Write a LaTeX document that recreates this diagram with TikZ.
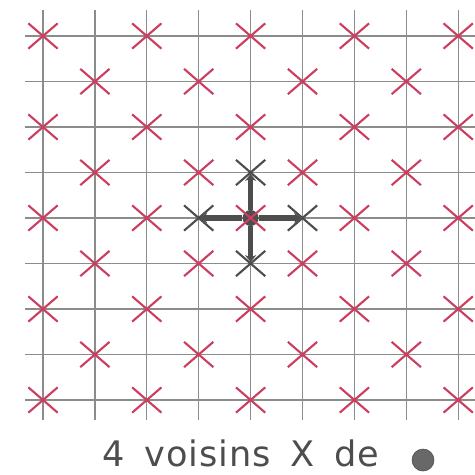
\documentclass[tikz,border=0pt]{standalone}
\usepackage{fontspec}
\usepackage{xcolor}
\usepackage{tikz}
\usetikzlibrary{shapes.misc, arrows.meta}
\newfontfamily\handfont{DejaVu Sans}[LetterSpace=3, WordSpace=1.6]
\definecolor{markred}{HTML}{CC3D5F}
\definecolor{gridgray}{HTML}{8C8C8C}
\definecolor{pencil}{HTML}{4D4D4D}

\begin{document}
\begin{tikzpicture}[
  x=1.2975cm, y=-1.1375cm,
  gline/.style={draw=gridgray, line width=0.9pt},
  redx/.style={cross out, draw=markred, line width=1.5pt,
               minimum width=0.68cm, minimum height=0.58cm, inner sep=0pt},
  nbrx/.style={redx, draw=pencil},
  dot/.style={circle, fill=pencil, minimum size=0.4cm, inner sep=0pt},
  arr/.style={draw=pencil, line width=3.6pt,
              -{Stealth[length=5pt,width=8pt]}, shorten >=1pt},
  legend/.style={font=\handfont\fontsize{25}{30}\selectfont, text=pencil,
                 anchor=base west, inner sep=0pt}
]
\useasboundingbox (-0.8285,-0.7912) rectangle (8.3237,9.6264);

%% grid
\foreach \i in {0,...,8} {
  \draw[gline] (\i,-0.571) -- (\i,8.44);
  \draw[gline] (-0.347,\i) -- (8.3237,\i);
}

%% centre point and its 4 neighbours
\node[dot] (c) at (4,4) {};
\node[nbrx] (n-up)    at (4,3) {};
\node[nbrx] (n-left)  at (3,4) {};
\node[nbrx] (n-right) at (5,4) {};
\node[nbrx] (n-down)  at (4,5) {};
\foreach \b in {up,left,right,down}
  \draw[arr] (c) -- (n-\b.center);

%% red marks on every other cell
\foreach \i in {0,...,8}
  \foreach \j in {0,...,8} {
    \pgfmathtruncatemacro{\odd}{mod(\i+\j,2)}
    \ifnum\odd=0 \node[redx] (m-\i-\j) at (\i,\j) {}; \fi
  }

%% caption
\node[legend] (legend) at (1.137,9.451) {4 voisins X de};
\node[dot, minimum size=0.55cm, draw=pencil, fill=pencil!85] (legdot) at (7.322,9.319) {};
\end{tikzpicture}
\end{document}
